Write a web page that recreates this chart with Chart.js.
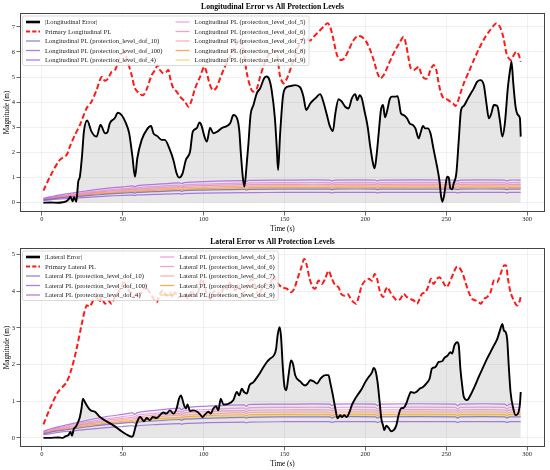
<!DOCTYPE html>
<html><head><meta charset="utf-8">
<script src="https://cdn.jsdelivr.net/npm/chart.js@4/dist/chart.umd.min.js"></script>
<style>
html,body{margin:0;padding:0;background:#fff;}
.wrap{position:relative;width:550px;height:235px;}
</style></head><body>
<div class="wrap"><canvas id="c1"></canvas></div>
<div class="wrap"><canvas id="c2"></canvas></div>
<script>
// ---------- tick labels ----------
const xTicks = [0, 50, 100, 150, 200, 250, 300];
const yTicksLon = [0, 1, 2, 3, 4, 5, 6, 7];
const yTicksLat = [0, 1, 2, 3, 4, 5];

// ---------- Longitudinal |error| ----------
const lonErrT = [1,5,10,13,15,16.5,17.7,19,20,21.3,22.5,23.5,24.8,26,28,30.7,33.8,36.3,37.5,39,40.5,42,45,47,49.3,52,54,56,57.6,59,61.7,64.8,67.5,69,71.4,74,76,78.8,81.3,83.3,84.8,87,89,91.6,93.3,95.7,97.4,98.8,100.5,102,104,106,108.5,111,114.3,116.4,118.4,121,122,123,124.2,125.2,126.5,127.7,129,130.8,132.9,135,137.4,139,140.7,142,144,145.2,146,147.3,149,150.4,153.5,156.6,159.7,161.7,163.4,165.9,169,172,173.7,176.2,177.8,179.9,181.4,183.4,185.4,187.5,189.6,191.6,193.7,195,196.4,197.8,199.3,201.4,203,204.7,205.7,206.8,208.2,209.6,210.9,212.1,213.3,215,216.4,218.5,219.9,222,223.6,225.7,227.3,229.4,230.9,232.9,234,235.6,237,238.6,240.2,242.2,244.3,245.7,246.8,247.6,248.5,249.4,250.5,251.5,252.5,253.6,254.6,256.2,257.7,259.1,260.8,262.8,264.5,267,269,271.1,273.2,274.8,276.3,277.8,279.4,281.5,283.1,284.6,286.2,288.1,289.7,290.3,291.4,292.8,294.3,295.5,296];
const lonErrV = [0,0.01,0,0.02,0.05,0.13,0.24,0.06,0.22,0.04,0.84,1.03,1.83,2.83,3.27,2.83,2.63,3.1,2.96,2.76,2.8,3.16,3.36,3.58,3.49,3.16,2.76,1.83,1.03,1.77,2.5,2.9,3.05,2.76,2.65,2.5,2.5,2.16,1.7,1.17,1.0,1.17,1.7,2.03,2.83,2.96,3.19,3.05,2.63,2.43,2.99,2.76,2.83,2.96,3.05,3.16,3.49,3.29,2.9,1.97,1.03,0.64,1.43,2.36,3.49,3.89,4.36,4.56,4.95,5.02,4.88,4.5,3.4,2.2,1.3,2.76,4.22,4.55,4.64,4.68,4.59,4.22,3.69,3.95,4.15,4.32,4.08,3.49,3.09,2.85,3.55,4.12,4.02,3.82,3.75,4.15,4.32,4.08,4.28,4.15,3.69,3.02,2.23,1.56,1.37,1.83,2.76,3.69,3.89,3.4,3.62,4.11,4.22,4.22,4.24,3.55,3.49,3.36,3.16,3.09,2.96,2.56,2.76,3.05,2.96,2.96,2.76,2.1,1.43,0.9,0.24,0.04,0.24,0.64,1.03,1.0,0.57,0.53,0.77,1.17,2.49,3.69,3.85,4.08,4.28,4.55,4.81,4.88,4.68,3.95,3.36,3.55,3.89,3.85,3.29,2.63,3.16,4.62,5.41,5.61,4.75,3.82,3.49,3.36,2.63];

// ---------- Primary Longitudinal PL ----------
const lonPlT = [1,5,11,15.3,17.3,20.4,23.5,27.6,30.7,33.8,36.9,39,41,43.1,45.2,47.2,49.3,51.4,53.4,55.5,57.6,60.2,62.7,65,67.9,70,71.6,73,75.1,77,78.2,79.6,81.3,83.3,85.4,88.5,90.6,92.6,94.7,97.8,100.3,102,103.6,105.6,107.6,110.2,112.6,115.3,118.4,120.9,123,124.6,126.7,129.2,130.8,132.9,134.9,138,140.1,142.8,144.5,145.5,147.3,149.4,151,153.1,155.2,157.6,159.7,161.7,163.8,165.8,167.9,171,174.1,176.6,178.2,180.3,182.4,184.4,186.9,189.6,192.7,195.2,197.8,200.5,203,205.1,207.5,209.2,211.3,213.7,216.4,219.1,221.5,223.6,225.2,226.7,228.1,229.8,231.4,232.9,234.4,236.4,238.3,240.2,242.2,243.8,245.3,246.8,248.4,250.5,252.5,254.2,255.6,257.1,258.7,260.8,263.9,267,270,273.2,276.3,279,281,283.1,285.2,287.2,288.7,290.1,291.7,293.4,294.8,296];
const lonPlV = [0.48,1.03,1.7,1.9,2.23,2.69,3.09,3.75,4.02,4.48,5.01,4.85,4.95,5.21,5.28,5.61,5.94,5.94,5.54,5.08,4.55,4.35,4.28,4.55,5.08,5.28,5.48,5.28,5.15,5.21,5.28,4.88,4.55,4.42,4.22,4.02,3.82,4.08,4.55,5.01,5.41,5.15,4.75,4.48,4.55,4.95,5.34,5.68,6.07,6.41,6.5,6.07,5.15,4.55,4.42,4.55,5.01,5.61,5.88,6.07,6.0,5.88,5.01,4.75,4.88,5.21,5.61,6.07,6.34,6.54,6.5,6.45,6.6,6.8,7.0,7.14,7.0,6.47,5.88,5.68,5.74,6.07,6.47,6.63,6.6,6.41,6.07,5.68,5.15,4.95,5.08,5.41,5.81,6.15,6.41,6.6,6.27,5.74,5.34,5.28,5.34,5.41,5.15,4.95,4.95,5.28,5.48,5.28,4.75,4.35,4.15,4.11,4.02,3.95,3.85,4.02,4.35,4.75,5.21,5.68,6.1,6.5,6.8,7.03,7.14,7.0,6.6,5.94,5.74,5.68,5.88,6.01,5.88,5.61];

// ---------- Lateral |error| ----------
const latErrT = [1,5,10,13,14.5,16.3,17.7,18.6,19.8,21,22.5,23.5,24.5,25.4,26.6,28,30.1,32.8,35.9,40,44.2,48.3,52.4,55.5,56.5,57.6,59,60.7,61.7,63.1,64.8,66.8,68.5,71,73,75.1,77,79.2,81.3,83.3,84.8,86,87,87.9,89,90,91.6,93.7,96.1,97.8,99.4,100.9,103,104.4,106,107.7,109.1,110.6,112.2,115.3,118.4,120.5,122,123.6,125,126.7,128.3,130.8,133.9,137,139.1,141.1,143.4,144.8,145.7,146.9,147.8,149,150,151.1,152.5,154,155.2,156.6,159.7,162.8,164.3,165.9,168,170,172.5,175.1,177.2,178.2,179.9,181.4,182.8,184.4,185.4,186.9,188.5,190.2,191.6,193.7,195.8,197.8,199.9,202,204,205.1,206.2,207.5,208.8,209.8,210.9,211.7,212.9,214.4,215.8,217.5,219.1,220.5,222,223.6,225.2,226.7,228.1,229.8,231.4,233.5,235.6,237.6,239.7,241.1,243.2,245.3,247.4,248.8,250.9,252.5,253.6,255,256.7,257.7,258.7,259.8,260.8,262.8,264.9,267.4,270,272.8,275.2,277.3,279.4,281.5,283.5,284.6,285.6,286.6,287.6,288.7,289.7,291.4,292.8,294.3,295.5,296];
const latErrV = [0,0,0.01,0,0.04,0.07,0.16,0.06,0.25,0.3,0.44,0.57,0.8,1.07,0.98,0.87,0.75,0.71,0.57,0.45,0.34,0.21,0.09,0.03,0.07,0.25,0.45,0.57,0.53,0.45,0.54,0.48,0.57,0.54,0.62,0.69,0.66,0.75,0.66,0.8,1.07,1.16,1.03,0.89,0.8,0.91,0.73,0.75,0.71,0.64,0.57,0.64,0.71,0.66,0.8,0.86,0.75,1.07,0.91,0.93,1.03,1.25,1.16,1.34,1.25,1.21,1.43,1.52,1.71,1.93,2.07,2.16,2.25,2.43,2.79,3.02,2.79,1.89,1.39,1.3,1.71,2.11,2.02,1.71,1.54,1.43,1.48,1.57,1.54,1.48,1.63,1.71,1.71,1.52,1.16,0.8,0.53,0.62,0.57,0.62,0.57,0.71,0.89,1.07,1.21,1.34,1.52,1.66,1.78,1.91,1.84,1.52,0.98,0.53,0.34,0.21,0.33,0.27,0.18,0.21,0.34,0.62,0.8,0.82,0.93,1.12,1.25,1.23,1.25,1.34,1.39,1.48,1.62,1.89,1.93,2.07,2.09,2.18,2.25,2.34,2.3,2.52,2.61,2.52,1.89,1.43,1.12,1.03,1.16,1.39,1.66,1.93,2.16,2.34,2.52,2.7,2.98,3.11,2.93,2.89,2.7,1.89,1.25,0.8,0.62,0.66,0.93,1.25];

// ---------- Primary Lateral PL ----------
const latPlT = [1,5,10,15.3,18.4,21.5,24.5,27.6,29.7,31.8,33.8,35.5,36.9,39,41,43.1,45.2,47.2,49.3,50.8,52.4,54.5,56.5,58.6,60.2,62.3,64.4,65.8,67.9,71,73,75.1,77.1,79.2,80.9,82.3,84.4,86.4,88.5,90.6,92.6,94.7,96.8,98.8,100.3,101.9,104,106,108.1,110.2,112.2,113.9,115.3,117.4,119.5,121.5,123.6,125.7,127.7,129.8,131.9,133.9,136,138,140.1,141.6,143.2,145.2,148.3,151.4,153.9,156,158,160.1,162.2,163.8,165.5,167.5,169,171,173.1,175.1,177.2,179.3,181.4,183.4,184.9,186.9,189,191,192.7,194.3,195.8,197.8,199.9,202,204,205.7,207.2,208.8,210.9,212.3,213.7,215.4,217.5,219.5,221.6,223.6,225.7,227.7,229.8,231.9,233.5,234.9,237,239.1,240.5,242.2,244.3,245.9,248,250.1,252.1,254.2,256.2,257.7,259.8,261.8,263.9,265.9,268,270,271.5,273.2,275.2,277.3,279.4,281.5,283.5,285.6,287,288.1,289.7,291.7,293.8,295.5,296];
const latPlV = [0.37,0.8,1.25,1.52,1.89,2.43,3.07,3.61,3.59,3.75,3.84,3.7,3.84,3.66,3.75,3.66,3.84,3.97,4.11,4.29,4.11,3.97,3.84,3.93,3.88,4.02,4.16,4.02,3.88,3.7,3.93,4.02,3.88,3.97,3.84,3.97,3.84,3.88,3.93,3.79,4.02,3.88,4.02,4.34,4.2,3.93,3.79,3.97,4.02,3.88,4.07,4.02,4.25,4.16,4.02,4.16,3.93,4.02,4.2,4.34,4.16,3.88,4.07,4.2,4.16,4.25,4.43,4.25,4.11,4.07,3.97,4.07,4.34,4.61,4.88,4.7,4.34,4.11,4.07,4.29,4.2,4.34,4.56,4.34,4.16,4.11,3.93,3.88,3.93,3.79,3.7,3.66,3.84,4.16,4.29,4.34,4.29,4.47,4.34,4.02,3.84,4.02,4.11,3.97,3.84,3.75,3.79,3.93,3.84,3.79,3.75,3.66,3.79,3.93,3.97,4.16,4.34,4.2,4.34,4.38,4.25,4.11,4.25,4.47,4.66,4.66,4.52,4.25,3.97,3.79,3.75,3.7,3.66,3.79,3.84,3.97,4.29,4.25,4.47,4.7,4.7,4.34,3.97,3.75,3.61,3.75,3.88];

// ---------- protection-level curves (shared time samples) ----------
const plT = [1,5,10,20,30,40,50,56,57.5,59,70,85,86.5,88,100,125,126.5,128,150,178,179.5,181,206,207.5,209,255.5,257,258.5,286,287.5,289,296];
const dofNames = ['10','100','4','5','6','7','8','9'];
// Longitudinal
const lonDof10  = [0.11,0.14,0.18,0.24,0.29,0.34,0.38,0.40,0.38,0.41,0.44,0.48,0.45,0.48,0.50,0.53,0.51,0.53,0.54,0.54,0.52,0.54,0.54,0.52,0.54,0.54,0.52,0.54,0.54,0.52,0.54,0.54];
const lonDof100 = [0.08,0.11,0.14,0.18,0.22,0.26,0.29,0.30,0.29,0.31,0.33,0.36,0.34,0.36,0.38,0.40,0.39,0.40,0.41,0.41,0.39,0.41,0.41,0.39,0.41,0.41,0.39,0.41,0.41,0.39,0.41,0.41];
const lonDof4   = [0.18,0.23,0.30,0.40,0.49,0.57,0.63,0.67,0.63,0.68,0.73,0.79,0.76,0.80,0.84,0.88,0.85,0.89,0.90,0.90,0.86,0.90,0.90,0.86,0.90,0.90,0.86,0.90,0.90,0.86,0.90,0.90];
const lonDof5   = [0.16,0.21,0.26,0.35,0.43,0.50,0.56,0.59,0.56,0.60,0.65,0.70,0.67,0.71,0.74,0.78,0.75,0.79,0.80,0.80,0.76,0.80,0.80,0.76,0.80,0.80,0.76,0.80,0.80,0.76,0.80,0.80];
const lonDof6   = [0.15,0.19,0.24,0.32,0.39,0.46,0.51,0.54,0.51,0.55,0.59,0.64,0.61,0.65,0.68,0.72,0.69,0.72,0.73,0.73,0.70,0.73,0.73,0.70,0.73,0.73,0.70,0.73,0.73,0.70,0.73,0.73];
const lonDof7   = [0.13,0.17,0.22,0.29,0.36,0.42,0.47,0.50,0.47,0.50,0.54,0.59,0.56,0.60,0.62,0.66,0.63,0.66,0.67,0.67,0.64,0.67,0.67,0.64,0.67,0.67,0.64,0.67,0.67,0.64,0.67,0.67];
const lonDof8   = [0.12,0.16,0.20,0.27,0.33,0.38,0.43,0.45,0.43,0.46,0.49,0.54,0.51,0.54,0.57,0.60,0.57,0.60,0.61,0.61,0.58,0.61,0.61,0.58,0.61,0.61,0.58,0.61,0.61,0.58,0.61,0.61];
const lonDof9   = [0.11,0.15,0.19,0.25,0.31,0.36,0.40,0.42,0.40,0.43,0.46,0.50,0.48,0.51,0.53,0.56,0.54,0.56,0.57,0.57,0.54,0.57,0.57,0.54,0.57,0.57,0.54,0.57,0.57,0.54,0.57,0.57];
// Lateral
const latDof10  = [0.11,0.15,0.19,0.25,0.31,0.36,0.40,0.42,0.40,0.43,0.46,0.50,0.48,0.51,0.53,0.56,0.54,0.56,0.57,0.57,0.54,0.57,0.57,0.54,0.57,0.57,0.54,0.57,0.57,0.54,0.57,0.57];
const latDof100 = [0.09,0.11,0.15,0.19,0.24,0.28,0.31,0.33,0.31,0.33,0.36,0.39,0.37,0.39,0.41,0.43,0.41,0.43,0.44,0.44,0.42,0.44,0.44,0.42,0.44,0.44,0.42,0.44,0.44,0.42,0.44,0.44];
const latDof4   = [0.18,0.24,0.30,0.40,0.50,0.58,0.64,0.68,0.64,0.69,0.75,0.81,0.77,0.82,0.86,0.90,0.86,0.91,0.92,0.92,0.88,0.92,0.92,0.88,0.92,0.92,0.88,0.92,0.92,0.88,0.92,0.92];
const latDof5   = [0.17,0.22,0.27,0.37,0.45,0.52,0.58,0.61,0.58,0.62,0.67,0.73,0.70,0.74,0.77,0.81,0.78,0.82,0.83,0.83,0.79,0.83,0.83,0.79,0.83,0.83,0.79,0.83,0.83,0.79,0.83,0.83];
const latDof6   = [0.15,0.20,0.25,0.33,0.41,0.48,0.53,0.56,0.53,0.57,0.62,0.67,0.64,0.68,0.71,0.74,0.71,0.75,0.76,0.76,0.73,0.76,0.76,0.73,0.76,0.76,0.73,0.76,0.76,0.73,0.76,0.76];
const latDof7   = [0.14,0.18,0.23,0.31,0.38,0.44,0.49,0.52,0.49,0.53,0.57,0.62,0.59,0.62,0.65,0.69,0.66,0.69,0.70,0.70,0.67,0.70,0.70,0.67,0.70,0.70,0.67,0.70,0.70,0.67,0.70,0.70];
const latDof8   = [0.13,0.17,0.21,0.28,0.35,0.40,0.45,0.47,0.45,0.48,0.52,0.56,0.54,0.57,0.60,0.63,0.60,0.63,0.64,0.64,0.61,0.64,0.64,0.61,0.64,0.64,0.61,0.64,0.64,0.61,0.64,0.64];
const latDof9   = [0.12,0.16,0.20,0.26,0.32,0.38,0.42,0.44,0.42,0.45,0.49,0.53,0.50,0.53,0.56,0.59,0.56,0.59,0.60,0.60,0.57,0.60,0.60,0.57,0.60,0.60,0.57,0.60,0.60,0.57,0.60,0.60];

// ---------- styling ----------
const SERIF = '"Liberation Serif", "Times New Roman", serif';
const dofColors = ['rgba(106,90,205,0.75)','rgba(145,85,212,0.75)','rgba(168,90,222,0.8)','rgba(218,120,214,0.65)','rgba(230,115,165,0.65)','rgba(245,140,120,0.65)','rgba(245,160,60,0.85)','rgba(238,205,80,0.75)'];

const pts = (T, V) => T.map((t, i) => ({x: t, y: V[i]}));

function buildDatasets(prefix, errT, errV, plTm, plV, dofArrays) {
  const ds = [];
  ds.push({label: '|' + prefix + ' Error|', data: pts(errT, errV), borderColor: '#000', borderWidth: 1.9,
    backgroundColor: 'rgba(128,128,128,0.2)', fill: 'origin', pointRadius: 0, cubicInterpolationMode: 'monotone',
    _leg: {color: '#000', w: 2.6}});
  ds.push({label: 'Primary ' + prefix + ' PL', data: pts(plTm, plV), borderColor: '#ff1a1a', borderWidth: 2,
    borderDash: [5.5, 2.8], fill: false, pointRadius: 0, tension: 0.3,
    _leg: {color: '#ff1a1a', w: 1.9, dash: [4.2, 2]}});
  dofNames.forEach((d, i) => {
    ds.push({label: prefix + ' PL (protection_level_dof_' + d + ')', data: pts(plT, dofArrays[i]),
      borderColor: dofColors[i], borderWidth: 1.2, fill: false, pointRadius: 0, tension: 0.3,
      _leg: {color: dofColors[i], w: 1.3}});
  });
  return ds;
}

const legendPlugin = {
  id: 'mplLegend',
  afterDatasetsDraw(chart) {
    const ctx = chart.ctx, a = chart.chartArea;
    const ds = chart.data.datasets;
    const fs = 6.6, rowH = 9.5;
    ctx.save();
    ctx.font = fs + 'px ' + SERIF;
    const col1 = ds.slice(0, 5), col2 = ds.slice(5);
    const left = a.left + 2.5, top = a.top + 3;
    const hx1 = left + 3.5, tx1 = hx1 + 19;
    const w1 = Math.max(...col1.map(e => ctx.measureText(e.label).width));
    const hx2 = tx1 + w1 + 13, tx2 = hx2 + 19;
    const w2 = Math.max(...col2.map(e => ctx.measureText(e.label).width));
    const right = tx2 + w2 + 3.5;
    const bottom = top + 6 + 4 * rowH + 5.5;
    const r = 2;
    ctx.beginPath();
    ctx.moveTo(left + r, top);
    ctx.lineTo(right - r, top); ctx.quadraticCurveTo(right, top, right, top + r);
    ctx.lineTo(right, bottom - r); ctx.quadraticCurveTo(right, bottom, right - r, bottom);
    ctx.lineTo(left + r, bottom); ctx.quadraticCurveTo(left, bottom, left, bottom - r);
    ctx.lineTo(left, top + r); ctx.quadraticCurveTo(left, top, left + r, top);
    ctx.closePath();
    ctx.fillStyle = 'rgba(255,255,255,0.8)';
    ctx.fill();
    ctx.strokeStyle = 'rgba(204,204,204,0.9)';
    ctx.lineWidth = 0.8;
    ctx.stroke();
    ds.forEach((e, i) => {
      const c = i < 5 ? 0 : 1, rI = i % 5;
      const y = top + 6 + rI * rowH;
      const hx = c ? hx2 : hx1, tx = c ? tx2 : tx1;
      ctx.beginPath();
      ctx.setLineDash(e._leg.dash || []);
      ctx.strokeStyle = e._leg.color;
      ctx.lineWidth = e._leg.w;
      ctx.moveTo(hx, y); ctx.lineTo(hx + 14, y);
      ctx.stroke();
      ctx.setLineDash([]);
      ctx.fillStyle = '#222';
      ctx.textBaseline = 'middle';
      ctx.textAlign = 'left';
      ctx.fillText(e.label, tx, y + 0.5);
    });
    ctx.restore();
  },
  afterDraw(chart) {
    const ctx = chart.ctx, a = chart.chartArea;
    ctx.save();
    ctx.strokeStyle = '#444';
    ctx.lineWidth = 1;
    ctx.strokeRect(Math.round(a.left) + 0.5, Math.round(a.top) + 0.5, Math.round(a.right - a.left) - 1, Math.round(a.bottom - a.top) - 1);
    ctx.restore();
  }
};

function makeChart(id, title, datasets, yMin, yMax, yTicks) {
  return new Chart(document.getElementById(id), {
    type: 'line',
    data: {datasets},
    plugins: [legendPlugin],
    options: {
      responsive: true, maintainAspectRatio: false, animation: false,
      layout: {padding: {top: 0, right: 5, bottom: 0, left: 0}},
      plugins: {
        legend: {display: false}, tooltip: {enabled: false},
        filler: {drawTime: 'beforeDatasetsDraw'},
        title: {display: true, text: title, color: '#000',
          font: {family: SERIF, size: 7.7, weight: 'bold', lineHeight: 1},
          padding: {top: 3.1, bottom: 2.2}}
      },
      scales: {
        x: {type: 'linear', min: -13.5, max: 311,
          afterBuildTicks: s => { s.ticks = xTicks.map(v => ({value: v})); },
          afterFit: s => { s.height = 23; },
          ticks: {font: {family: SERIF, size: 6.5}, color: '#222', padding: 0, maxRotation: 0, autoSkip: false},
          grid: {color: 'rgba(0,0,0,0.07)', lineWidth: 0.8, tickLength: 3.5, tickColor: '#444', tickWidth: 0.8},
          border: {display: false},
          title: {display: true, text: 'Time (s)', color: '#000', font: {family: SERIF, size: 7.2}, padding: {top: 0, bottom: 1.6}}
        },
        y: {type: 'linear', min: yMin, max: yMax,
          afterBuildTicks: s => { s.ticks = yTicks.map(v => ({value: v})); },
          afterFit: s => { s.width = 20; },
          ticks: {font: {family: SERIF, size: 6.5}, color: '#222', padding: 1.5, autoSkip: false},
          grid: {color: 'rgba(0,0,0,0.07)', lineWidth: 0.8, tickLength: 3.5, tickColor: '#444', tickWidth: 0.8},
          border: {display: false},
          title: {display: true, text: 'Magnitude (m)', color: '#000', font: {family: SERIF, size: 7.2}, padding: {top: 2.8, bottom: 0}}
        }
      }
    }
  });
}

makeChart('c1', 'Longitudinal Error vs All Protection Levels',
  buildDatasets('Longitudinal', lonErrT, lonErrV, lonPlT, lonPlV,
    [lonDof10, lonDof100, lonDof4, lonDof5, lonDof6, lonDof7, lonDof8, lonDof9]),
  -0.37, 7.55, yTicksLon);
makeChart('c2', 'Lateral Error vs All Protection Levels',
  buildDatasets('Lateral', latErrT, latErrV, latPlT, latPlV,
    [latDof10, latDof100, latDof4, latDof5, latDof6, latDof7, latDof8, latDof9]),
  -0.25, 5.18, yTicksLat);
</script>
</body></html>
